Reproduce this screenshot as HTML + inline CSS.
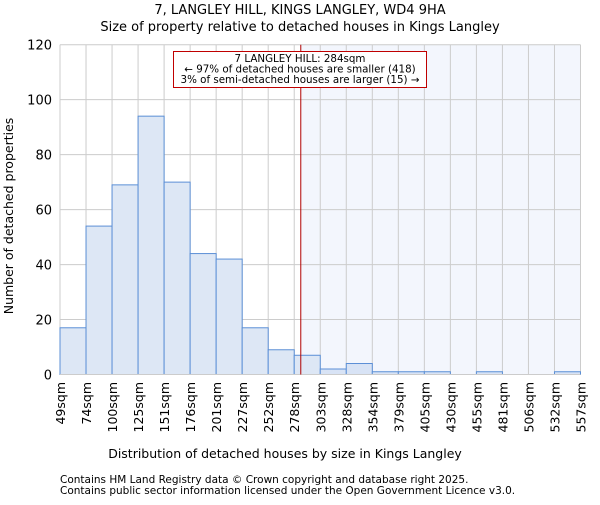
<!DOCTYPE html>
<html><head><meta charset="utf-8"><style>
body{margin:0;background:#fff;}
svg text{font-family:"DejaVu Sans","Liberation Sans",sans-serif;fill:#000;}
</style></head><body>
<svg id="c" width="600" height="500" viewBox="0 0 600 500" xmlns="http://www.w3.org/2000/svg">
<text x="300" y="14" font-size="13" text-anchor="middle">7, LANGLEY HILL, KINGS LANGLEY, WD4 9HA</text>
<text x="300" y="31" font-size="13" text-anchor="middle">Size of property relative to detached houses in Kings Langley</text>
<g id="grid"></g><g id="bars"></g><g id="axes"></g>
<text x="285" y="458" font-size="12.5" text-anchor="middle">Distribution of detached houses by size in Kings Langley</text>
<text transform="translate(13,216) rotate(-90)" font-size="12.5" text-anchor="middle">Number of detached properties</text>
<text x="60" y="483" font-size="10.5">Contains HM Land Registry data © Crown copyright and database right 2025.</text>
<text x="60" y="494" font-size="10.5">Contains public sector information licensed under the Open Government Licence v3.0.</text>
</svg>
<script>
const binLabels=["49sqm","74sqm","100sqm","125sqm","151sqm","176sqm","201sqm","227sqm","252sqm","278sqm","303sqm","328sqm","354sqm","379sqm","405sqm","430sqm","455sqm","481sqm","506sqm","532sqm","557sqm"];
const counts=[17,54,69,94,70,44,42,17,9,7,2,4,1,1,1,0,1,0,0,1];
const yTicks=[0,20,40,60,80,100,120];
const xMin=49,xMax=557,yMax=120,propertySize=284;
const L=60,R=580.5,T=44.7,B=374.5;
const NS="http://www.w3.org/2000/svg";
const n=counts.length;
const xb=i=>L+(R-L)*i/n;
const xv=v=>L+(R-L)*(v-xMin)/(xMax-xMin);
const y=v=>B-(B-T)*v/yMax;
function mk(tag,attrs,parent,txt){const e=document.createElementNS(NS,tag);for(const k in attrs)e.setAttribute(k,attrs[k]);if(txt!==undefined)e.textContent=txt;document.querySelector(parent).appendChild(e);return e;}
const px=xv(propertySize);
let sh=mk('rect',{x:px,y:T,width:R-px,height:B-T,fill:'#f3f6fd'},'#grid');


for(let i=0;i<=n;i++){let g=mk('line',{x1:xb(i),x2:xb(i),y1:T,y2:B,stroke:'#cccccc','stroke-width':1},'#grid');

}
yTicks.forEach(t=>{let g=mk('line',{x1:L,x2:R,y1:y(t),y2:y(t),stroke:'#cccccc','stroke-width':1},'#grid');


let tl=mk('text',{x:L-8,y:y(t)+5,'font-size':13,'text-anchor':'end'},'#axes',String(t));

});
counts.forEach((c,i)=>{if(c<=0)return;const x0=xb(i),x1=xb(i+1);
let b=mk('rect',{x:x0,y:y(c),width:x1-x0,height:B-y(c),fill:x0>=px-1?'#d8e3f5':'#dde7f5',stroke:'#5b8fd6','stroke-width':1},'#bars');

});
binLabels.forEach((l,i)=>{let t=mk('text',{transform:`translate(${xb(i)+5},382) rotate(-90)`,'font-size':12.5,'text-anchor':'end'},'#axes',l);

});
let ax=mk('line',{x1:L,x2:R,y1:B,y2:B,stroke:'#cccccc','stroke-width':1},'#axes');


let ml=mk('line',{x1:px,x2:px,y1:T,y2:B,stroke:'#b00000','stroke-width':1},'#axes');


let box=mk('rect',{x:173.5,y:51.5,width:253,height:36,fill:'#fff',stroke:'#c00000','stroke-width':1},'#axes');


["7 LANGLEY HILL: 284sqm","← 97% of detached houses are smaller (418)","3% of semi-detached houses are larger (15) →"].forEach((s,i)=>{
let t=mk('text',{x:300,y:62+i*10.5,'font-size':10.3,'text-anchor':'middle'},'#axes',s);

});
</script>
</body></html>
